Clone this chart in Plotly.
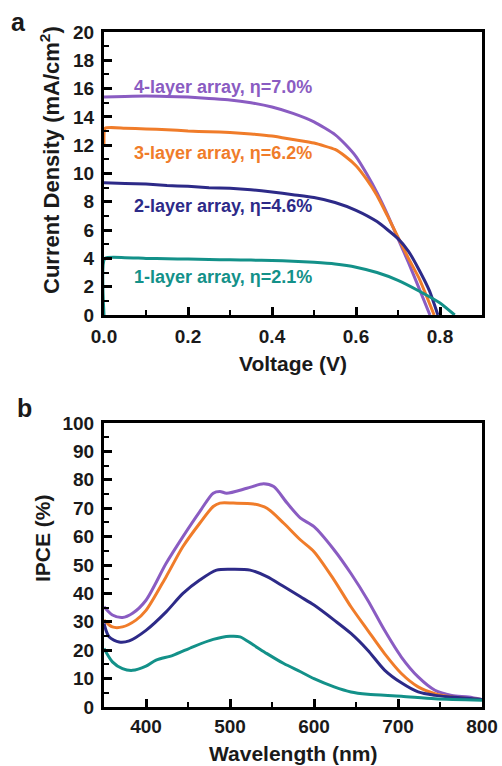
import plotly.graph_objects as go

# ---------- Panel a: J-V curves ----------
v_4layer = [0, 0.05, 0.1, 0.15, 0.2, 0.25, 0.3, 0.35, 0.4, 0.45, 0.5, 0.55, 0.575, 0.6, 0.625, 0.65, 0.675, 0.7, 0.725, 0.75, 0.776]
j_4layer = [15.4, 15.45, 15.48, 15.45, 15.4, 15.3, 15.2, 15.0, 14.7, 14.25, 13.65, 12.75, 12.05, 11.2, 10.0, 8.65, 7.1, 5.4, 3.7, 1.9, 0]

v_3layer = [0, 0.003, 0.05, 0.1, 0.15, 0.2, 0.25, 0.3, 0.35, 0.4, 0.45, 0.5, 0.55, 0.575, 0.6, 0.625, 0.65, 0.675, 0.7, 0.725, 0.75, 0.786]
j_3layer = [12.0, 13.2, 13.2, 13.15, 13.1, 13.0, 12.95, 12.9, 12.8, 12.65, 12.4, 12.15, 11.7, 11.2, 10.55, 9.6, 8.45, 7.0, 5.5, 4.0, 2.6, 0]

v_2layer = [0, 0.05, 0.1, 0.15, 0.2, 0.25, 0.3, 0.35, 0.4, 0.45, 0.5, 0.55, 0.6, 0.65, 0.7, 0.725, 0.75, 0.775, 0.795]
j_2layer = [9.35, 9.3, 9.25, 9.15, 9.1, 9.0, 8.95, 8.85, 8.7, 8.5, 8.3, 7.95, 7.4, 6.6, 5.4, 4.5, 3.2, 1.7, 0]

v_1layer = [0, 0.002, 0.05, 0.1, 0.15, 0.2, 0.25, 0.3, 0.35, 0.4, 0.45, 0.5, 0.55, 0.6, 0.65, 0.7, 0.75, 0.8, 0.835]
j_1layer = [0, 4.0, 4.05, 4.0, 3.98, 3.95, 3.92, 3.9, 3.88, 3.85, 3.8, 3.72, 3.6, 3.38, 3.0, 2.45, 1.7, 0.85, 0]

jv_labels = ["4-layer array, η=7.0%", "3-layer array, η=6.2%", "2-layer array, η=4.6%", "1-layer array, η=2.1%"]
jv_label_y = [16.1, 11.45, 7.7, 2.7]

# ---------- Panel b: IPCE ----------
wl_4layer = [350, 360, 372, 384, 400, 424, 444, 464, 480, 488, 496, 520, 540, 552, 568, 584, 600, 624, 644, 664, 684, 704, 724, 744, 764, 784, 800]
ipce_4layer = [35.3, 32.4, 31.5, 33, 37.6, 50.6, 60, 68.8, 75.3, 75.9, 75.3, 77, 78.6, 77.6, 71.8, 66.5, 63.5, 55.3, 47, 37.6, 27, 17.6, 10.6, 5.9, 4.1, 3.5, 2.6]

wl_3layer = [350, 360, 372, 388, 400, 424, 444, 464, 480, 488, 504, 528, 544, 564, 584, 600, 624, 644, 664, 684, 704, 724, 744, 764, 800]
ipce_3layer = [30.6, 28.2, 28.2, 30.6, 34, 45.9, 56.5, 64.7, 70.6, 71.8, 71.8, 71.5, 70, 64.7, 58.8, 54.7, 44.7, 35.3, 27, 18.8, 11.8, 7.1, 4.7, 3.5, 2.6]

wl_2layer = [350, 356, 368, 380, 400, 424, 444, 464, 484, 504, 524, 544, 564, 584, 600, 624, 644, 664, 684, 704, 724, 744, 764, 800]
ipce_2layer = [29.4, 24.7, 22.9, 23.3, 27, 33.5, 40, 44.7, 48.2, 48.5, 48.2, 45.9, 42.4, 38.8, 35.9, 30.6, 25.9, 20, 13, 8.5, 5.3, 4.1, 3.5, 2.6]

wl_1layer = [350, 360, 372, 384, 400, 412, 432, 456, 480, 500, 512, 528, 544, 564, 584, 600, 624, 644, 664, 704, 744, 800]
ipce_1layer = [20.6, 15.9, 13.5, 12.9, 14.4, 16.5, 18.2, 21.2, 23.8, 24.9, 24.7, 21.8, 18.8, 15.3, 12.4, 10, 7.1, 5.3, 4.5, 3.8, 2.9, 2.4]

colors = ["#8a5cc2", "#f07c2a", "#2d2a88", "#139189"]

FONT = "Liberation Sans, Arial, sans-serif"

fig = go.Figure()

jv_sets = [(v_4layer, j_4layer), (v_3layer, j_3layer), (v_2layer, j_2layer), (v_1layer, j_1layer)]
for (vx, jy), c in zip(jv_sets, colors):
    fig.add_trace(go.Scatter(x=vx, y=jy, mode="lines", line=dict(color=c, width=3, shape="spline", smoothing=0.5),
                             xaxis="x", yaxis="y", showlegend=False, hoverinfo="skip"))

ipce_sets = [(wl_4layer, ipce_4layer), (wl_3layer, ipce_3layer), (wl_2layer, ipce_2layer), (wl_1layer, ipce_1layer)]
for (wx, iy), c in zip(ipce_sets, colors):
    fig.add_trace(go.Scatter(x=wx, y=iy, mode="lines", line=dict(color=c, width=3, shape="spline", smoothing=0.8),
                             xaxis="x2", yaxis="y2", showlegend=False, hoverinfo="skip"))

W, H = 502, 766
xl, xr = 104 / W, 482 / W

def ax_common():
    return dict(showline=True, linecolor="black", linewidth=3, mirror=True, ticks="inside",
                ticklen=8, tickwidth=3, tickcolor="black", showgrid=False, zeroline=False, automargin=False,
                tickfont=dict(family=FONT, size=19, color="#1a1a1a", weight="bold"))

xa = ax_common(); xa.update(domain=[xl, xr], range=[0, 0.9], tick0=0, dtick=0.2, tickformat=".1f", anchor="y",
                            minor=dict(ticks="inside", ticklen=5, tickwidth=2, dtick=0.1, tickcolor="black"),
                            ticklabelstandoff=2)
ya = ax_common(); ya.update(domain=[1 - 315 / H, 1 - 32 / H], range=[0, 20], tick0=0, dtick=2, anchor="x",
                            minor=dict(ticks="inside", ticklen=5, tickwidth=2, dtick=1, tickcolor="black"),
                            ticklabelstandoff=3)
xb = ax_common(); xb.update(domain=[xl, xr], range=[350, 800], tick0=400, dtick=100, anchor="y2",
                            minor=dict(ticks="inside", ticklen=5, tickwidth=2, dtick=50, tickcolor="black"),
                            ticklabelstandoff=0)
yb = ax_common(); yb.update(domain=[1 - 707 / H, 1 - 423 / H], range=[0, 100], tick0=0, dtick=10, anchor="x2",
                            minor=dict(ticks="inside", ticklen=5, tickwidth=2, dtick=5, tickcolor="black"),
                            ticklabelstandoff=3)

annotations = []
for txt, yy, c in zip(jv_labels, jv_label_y, colors):
    annotations.append(dict(x=0.067, y=yy, xref="x", yref="y", text=txt, showarrow=False, xanchor="left",
                            yanchor="middle", font=dict(family=FONT, size=18, color=c, weight="bold")))

title_font = dict(family=FONT, size=21, color="#1a1a1a", weight="bold")
annotations += [
    dict(x=(xl + xr) / 2, y=1 - 363 / H, xref="paper", yref="paper", text="Voltage (V)", showarrow=False,
         xanchor="center", yanchor="middle", font=title_font),
    dict(x=(xl + xr) / 2, y=1 - 753 / H, xref="paper", yref="paper", text="Wavelength (nm)", showarrow=False,
         xanchor="center", yanchor="middle", font=title_font),
    dict(x=50 / W, y=1 - 160 / H, xref="paper", yref="paper", text="Current Density (mA/cm<sup>2</sup>)",
         showarrow=False, textangle=-90, xanchor="center", yanchor="middle",
         font=dict(family=FONT, size=22, color="#1a1a1a", weight="bold")),
    dict(x=42 / W, y=1 - 538 / H, xref="paper", yref="paper", text="IPCE (%)",
         showarrow=False, textangle=-90, xanchor="center", yanchor="middle", font=title_font),
    dict(x=18 / W, y=1 - 22 / H, xref="paper", yref="paper", text="a", showarrow=False,
         xanchor="center", yanchor="middle", font=dict(family=FONT, size=25, color="#1a1a1a", weight="bold")),
    dict(x=24 / W, y=1 - 408 / H, xref="paper", yref="paper", text="b", showarrow=False,
         xanchor="center", yanchor="middle", font=dict(family=FONT, size=25, color="#1a1a1a", weight="bold")),
]

fig.update_layout(template="none", width=W, height=H, margin=dict(l=0, r=0, t=0, b=0, autoexpand=False),
                  paper_bgcolor="white", plot_bgcolor="white", xaxis=xa, yaxis=ya, xaxis2=xb, yaxis2=yb,
                  annotations=annotations, showlegend=False, hovermode=False)

fig.write_html("out.html", config={"displayModeBar": False, "staticPlot": True},
               post_script="document.body.style.margin='0';document.body.style.padding='0';")
